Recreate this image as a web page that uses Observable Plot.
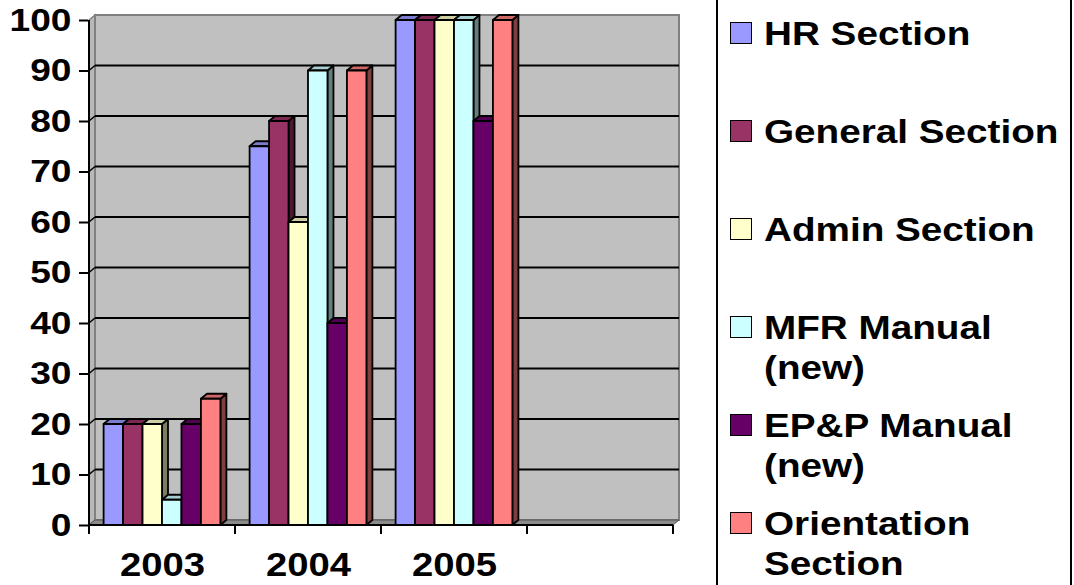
<!DOCTYPE html>
<html><head><meta charset="utf-8">
<script src="https://cdn.jsdelivr.net/npm/d3@7"></script>
<script src="https://cdn.jsdelivr.net/npm/@observablehq/plot@0.6"></script>
<style>
body{margin:0;background:#fff;font-family:"Liberation Sans",Arial,sans-serif;}
#wrap{position:relative;width:1074px;height:585px;overflow:hidden;}
#chart{position:absolute;left:0;top:0;}
#legend{position:absolute;left:716px;top:-6px;width:356px;height:600px;border:2px solid #000;box-sizing:border-box;}
.item{position:absolute;left:0;display:flex;align-items:flex-start;}
.sw{width:20px;height:20px;border:1.5px solid #000;margin-left:12px;margin-top:8px;flex:none;}
.lab{margin-left:12px;font-weight:bold;font-size:32.5px;line-height:40px;width:258px;color:#000;transform:scaleX(1.19);transform-origin:0 0;}
</style></head><body>
<div id="wrap"><div id="chart"></div><div id="legend"></div></div>
<script>
// ---- data ----
const years = ["2003", "2004", "2005", ""];
const series = ["HR Section", "General Section", "Admin Section", "MFR Manual (new)", "EP&P Manual (new)", "Orientation Section"];
const colors = ["#9999FF", "#993366", "#FFFFCC", "#CCFFFF", "#660066", "#FF8080"];
const hrSection = [20, 75, 100];
const generalSection = [20, 80, 100];
const adminSection = [20, 60, 100];
const mfrManual = [5, 90, 100];
const eppManual = [20, 40, 80];
const orientationSection = [25, 90, 100];
const yTicks = [0, 10, 20, 30, 40, 50, 60, 70, 80, 90, 100];

const seriesValues = [hrSection, generalSection, adminSection, mfrManual, eppManual, orientationSection];
const rows = [];
seriesValues.forEach((vals, si) => vals.forEach((v, yi) => rows.push({year: years[yi], series: series[si], si, value: v})));
rows.sort((a, b) => years.indexOf(a.year) - years.indexOf(b.year) || a.si - b.si);

const DX = 6, DY = -5;
const TEXT_STRETCH = 1.16;

function bandInfo(scales) {
  const x = scales.x;
  const bw = typeof x.bandwidth === "function" ? x.bandwidth() : (x(years[1]) - x(years[0]));
  const x0 = x(years[0]);
  const x1 = x(years[years.length - 1]) + bw;
  return {x, bw, x0, x1};
}

// back wall, left wall, floor, gridlines
function walls(index, scales) {
  const {x0, x1} = bandInfo(scales);
  const y = scales.y;
  const yT = y(100), yB = y(0);
  const g = d3.create("svg:g");
  g.append("polygon")
    .attr("points", [[x0, yT], [x0 + DX, yT + DY], [x0 + DX, yB + DY], [x0, yB]].join(" "))
    .attr("fill", "#b8b8b8").attr("stroke", "#808080").attr("stroke-width", 1.5);
  g.append("rect")
    .attr("x", x0 + DX).attr("y", yT + DY).attr("width", x1 - x0).attr("height", yB - yT)
    .attr("fill", "#c0c0c0").attr("stroke", "#808080").attr("stroke-width", 2);
  g.append("polygon")
    .attr("points", [[x0, yB], [x0 + DX, yB + DY], [x1 + DX, yB + DY], [x1, yB]].join(" "))
    .attr("fill", "#8c8c8c").attr("stroke", "#555").attr("stroke-width", 1);
  for (const t of yTicks) {
    if (t === 0 || t === 100) continue;
    const yy = y(t);
    g.append("line").attr("x1", x0).attr("y1", yy).attr("x2", x0 + DX).attr("y2", yy + DY)
      .attr("stroke", "#000").attr("stroke-width", 1.5);
    g.append("line").attr("x1", x0 + DX).attr("y1", yy + DY).attr("x2", x1 + DX).attr("y2", yy + DY)
      .attr("stroke", "#000").attr("stroke-width", 1.8);
  }
  return g.node();
}

// 3D clustered columns
function bars(index, scales) {
  const {x, bw} = bandInfo(scales);
  const y = scales.y;
  const w = bw * 0.8 / series.length;
  const g = d3.create("svg:g").attr("stroke", "#000").attr("stroke-width", 1.8).attr("stroke-linejoin", "round");
  for (const r of rows) {
    const c = colors[r.si];
    const bx = x(r.year) + bw * 0.1 + r.si * w;
    const yt = y(r.value), yb = y(0);
    g.append("polygon").attr("points", [[bx + w, yt], [bx + w + DX, yt + DY], [bx + w + DX, yb + DY], [bx + w, yb]].join(" "))
      .attr("fill", d3.color(c).darker(2).formatHex());
    g.append("polygon").attr("points", [[bx, yt], [bx + DX, yt + DY], [bx + w + DX, yt + DY], [bx + w, yt]].join(" "))
      .attr("fill", d3.color(c).darker(0.6).formatHex());
    g.append("rect").attr("x", bx).attr("y", yt).attr("width", w).attr("height", yb - yt).attr("fill", c);
  }
  return g.node();
}

// axis lines and category boundary ticks
function axisLines(index, scales) {
  const {x0, x1, bw} = bandInfo(scales);
  const y = scales.y;
  const yT = y(100), yB = y(0);
  const g = d3.create("svg:g").attr("stroke", "#000").attr("stroke-width", 2);
  g.append("line").attr("x1", x0).attr("y1", yT).attr("x2", x0).attr("y2", yB);
  g.append("line").attr("x1", x0).attr("y1", yB).attr("x2", x1).attr("y2", yB);
  for (let k = 0; k <= years.length; k++) {
    const xx = x0 + k * bw;
    g.append("line").attr("x1", xx).attr("y1", yB).attr("x2", xx).attr("y2", yB + 9);
  }
  return g.node();
}

const chart = Plot.plot({
  width: 712,
  height: 585,
  marginLeft: 88,
  marginRight: 38,
  marginTop: 20,
  marginBottom: 60,
  style: {fontFamily: "Liberation Sans, Arial, sans-serif", background: "#fff", color: "#000"},
  x: {type: "band", domain: years, padding: 0, label: null},
  y: {domain: [0, 100], label: null},
  marks: [
    walls,
    bars,
    axisLines,
    Plot.axisY({ticks: yTicks, tickSize: 9, tickPadding: 8, fontSize: 32, fontWeight: "bold", strokeWidth: 2, label: null}),
    Plot.axisX({tickSize: 0, tickPadding: 27, fontSize: 33, fontWeight: "bold", label: null})
  ]
});
document.getElementById("chart").appendChild(chart);

// widen the axis text horizontally (the original chart's lettering is stretched)
chart.querySelectorAll("text").forEach((t) => {
  const m = t.transform && t.transform.baseVal.consolidate() ? t.transform.baseVal.consolidate().matrix : null;
  const tx = (m ? m.e : 0) + (t.x.baseVal.length ? t.x.baseVal[0].value : 0);
  const ty = (m ? m.f : 0) + (t.y.baseVal.length ? t.y.baseVal[0].value : 0);
  const g = document.createElementNS("http://www.w3.org/2000/svg", "g");
  g.setAttribute("transform", `translate(${tx},${ty}) scale(${TEXT_STRETCH},1) translate(${-tx},${-ty})`);
  t.parentNode.insertBefore(g, t);
  g.appendChild(t);
});

// legend (right side)
const legend = document.getElementById("legend");
series.forEach((s, i) => {
  const item = document.createElement("div");
  item.className = "item";
  item.style.top = (18 + i * 98) + "px";
  const sw = document.createElement("div");
  sw.className = "sw";
  sw.style.background = colors[i];
  const lab = document.createElement("div");
  lab.className = "lab";
  lab.textContent = s;
  item.appendChild(sw);
  item.appendChild(lab);
  legend.appendChild(item);
});
</script>
</body></html>
